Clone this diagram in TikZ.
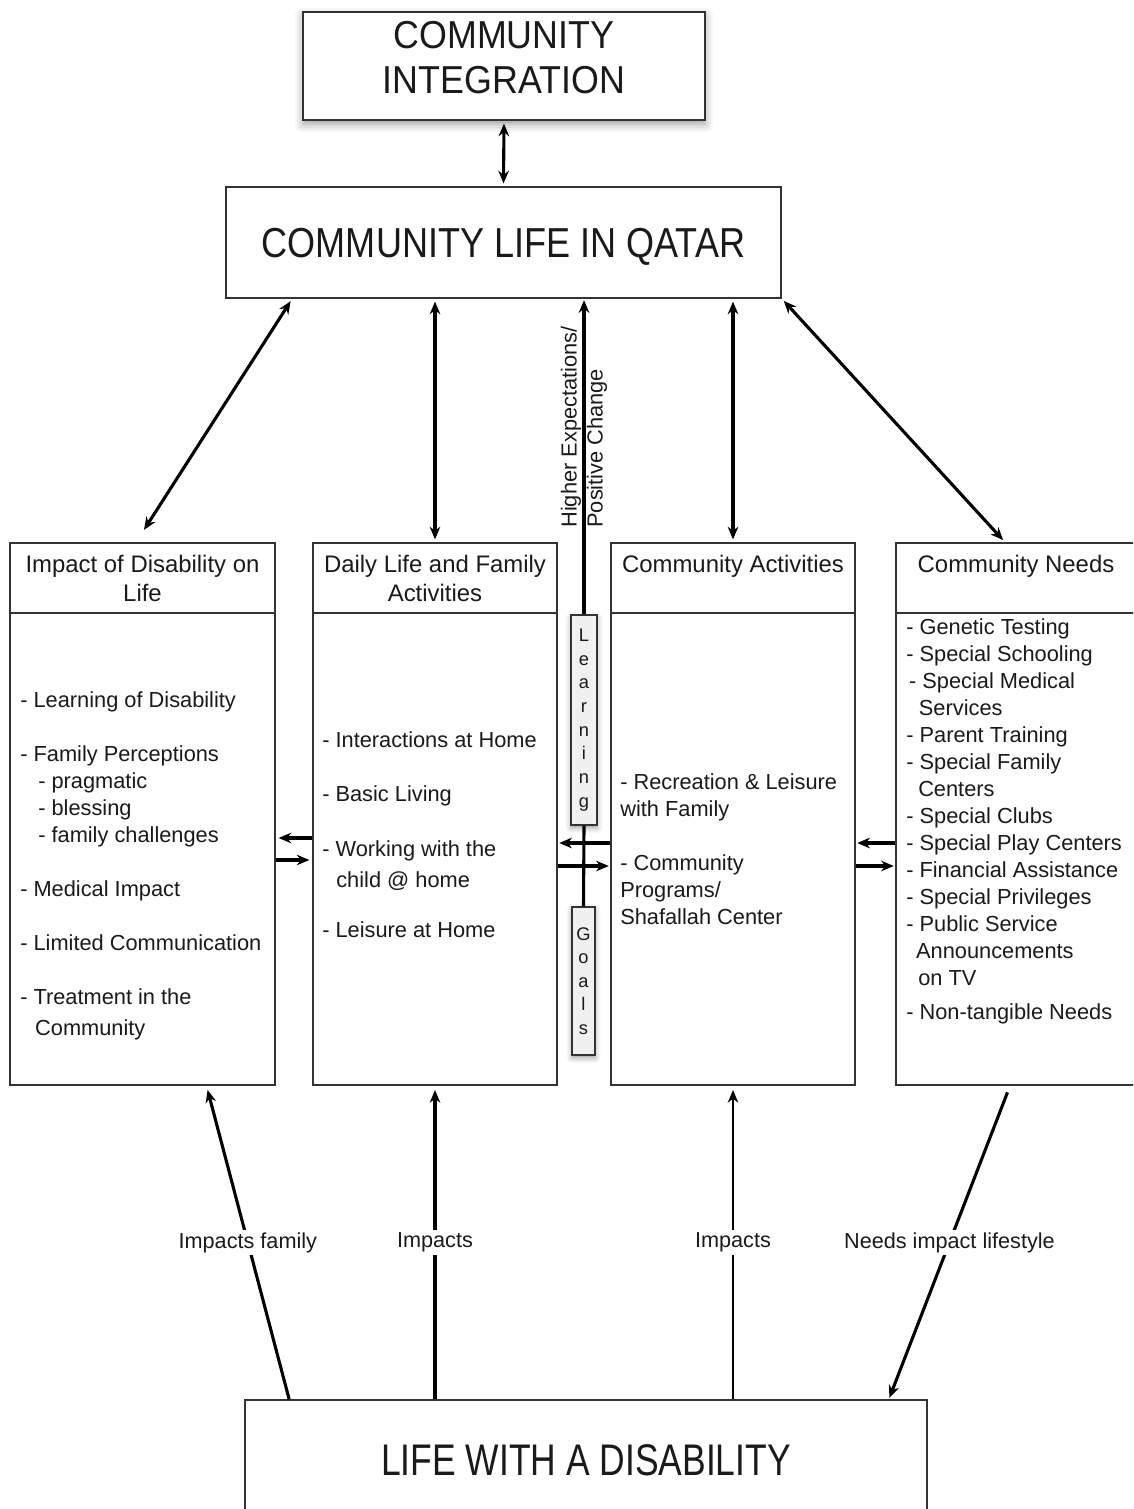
\documentclass[tikz,border=0pt]{standalone}
\usepackage{fontspec}
\setmainfont{Liberation Sans}
\newfontfamily\narrowsf[FakeStretch=0.8]{Liberation Sans}
\newfontfamily\semisf[FakeStretch=0.86]{Liberation Sans}
\newfontfamily\titlesf[FakeStretch=0.92]{Liberation Sans}
\usetikzlibrary{arrows.meta,shadows.blur}
\definecolor{ink}{HTML}{1A1A1A}
\definecolor{frame}{HTML}{333333}

\begin{document}
\begin{tikzpicture}[x=0.025cm,y=-0.025cm,>={Stealth[length=9pt,width=7.5pt]},
  box/.style={draw=frame,line width=1.1pt,fill=white,text=ink,inner sep=0pt},
  hd/.style={box,minimum height=1.75cm,align=center,font=\fontsize{17}{20.6}\selectfont},
  body/.style={box,minimum height=11.8cm},
  item/.style={anchor=north west,align=left,inner sep=0pt,text=ink,font=\fontsize{15.5}{19.2}\selectfont},
  link/.style={<->,line width=2.2pt,shorten <=2pt,shorten >=2pt},
  flow/.style={->,line width=2.2pt},
  lbl/.style={fill=white,text=ink,font=\fontsize{15.4}{18}\selectfont,inner sep=2pt},
  tag/.style={draw=frame,line width=0.9pt,fill=gray!12,inner sep=0pt,align=center,text=ink,
    font=\fontsize{13}{16.8}\selectfont,
    blur shadow={shadow xshift=0pt,shadow yshift=-2pt,shadow blur radius=4pt}}]

\useasboundingbox (0,0) rectangle (1133,1509);
\clip (0,0) rectangle (1133,1509);

% top boxes
\node[box,minimum width=10.05cm,minimum height=2.7cm,
  blur shadow={shadow xshift=0pt,shadow yshift=-3pt,shadow blur radius=6pt}] (intg) at (504,66) {};
\node[align=center,inner sep=0pt,text=ink,font=\titlesf\fontsize{27.7}{32}\selectfont] (intgtxt) at (504,57.5) {COMMUNITY\\INTEGRATION};
\node[box,minimum width=13.875cm,minimum height=2.775cm,text depth=0pt,font=\semisf\fontsize{29.8}{34}\selectfont] (qatar) at (503.5,242.5) {COMMUNITY LIFE IN QATAR};

% the four columns
\node[hd,minimum width=6.625cm] (hd1) at (142.5,578) {Impact of Disability on\\Life};
\node[body,minimum width=6.625cm] (body1) at (142.5,849) {};
\node[hd,minimum width=6.1cm] (hd2) at (435,578) {Daily Life and Family\\Activities};
\node[body,minimum width=6.1cm] (body2) at (435,849) {};
\node[hd,minimum width=6.1cm] (hd3) at (733,578) {Community Activities\\\phantom{A}};
\node[body,minimum width=6.1cm] (body3) at (733,849) {};
\node[hd,minimum width=6cm] (hd4) at (1016,578) {Community Needs\\\phantom{A}};
\node[body,minimum width=6cm] (body4) at (1016,849) {};

\node[item] (list1) at (20,691) {- Learning of Disability\\[19.2pt]
- Family Perceptions\\
\hspace*{12.8pt}- pragmatic\\
\hspace*{12.8pt}- blessing\\
\hspace*{12.8pt}- family challenges\\[19.2pt]
- Medical Impact\\[19.2pt]
- Limited Communication\\[19.2pt]
- Treatment in the\\[3pt]
\hspace*{10.6pt}Community};
\node[item] (list2) at (322,731) {- Interactions at Home\\[19.2pt]
- Basic Living\\[19.9pt]
- Working with the\\[2.8pt]
\hspace*{10pt}child @ home\\[17pt]
- Leisure at Home};
\node[item] (list3) at (620,773) {- Recreation \& Leisure\\
with Family\\[19.2pt]
- Community\\
Programs/\\
Shafallah Center};
\node[item] (list4) at (906,618) {- Genetic Testing\\
- Special Schooling\\
\hspace*{2pt}- Special Medical\\
\hspace*{9pt}Services\\
- Parent Training\\
- Special Family\\
\hspace*{8.5pt}Centers\\
- Special Clubs\\
- Special Play Centers\\
- Financial Assistance\\
- Special Privileges\\
- Public Service\\
\hspace*{7pt}Announcements\\
\hspace*{8.5pt}on TV\\[5pt]
- Non-tangible Needs};

% learning and goals
\node[tag,minimum width=0.65cm,minimum height=5.25cm] (learn) at (584,720) {L\\e\\a\\r\\n\\i\\n\\g};
\node[tag,minimum width=0.575cm,minimum height=3.7cm] (goals) at (583.5,981) {G\\o\\a\\l\\s};

% bottom box
\node[box,minimum width=17.05cm,minimum height=3cm,font=\narrowsf\fontsize{31.5}{36}\selectfont] (life) at (586,1460) {LIFE WITH A DISABILITY};

% links to community life
\draw[link] (intg.south) -- (qatar.north);
\draw[link] ([xshift=1.675cm]qatar.south west) -- ([yshift=0.25cm]hd1.north);
\draw[link] (qatar.south -| hd2.north) -- (hd2.north);
\draw[link] (qatar.south -| hd3.north) -- (hd3.north);
\draw[link] (qatar.south east) -- ([xshift=-0.275cm]hd4.north);
\draw[flow,shorten >=1pt] (learn.north) -- (learn.north |- qatar.south)
  node[pos=0.27,rotate=90,anchor=west,align=left,inner sep=0pt,text=ink,
    font=\fontsize{15.5}{18.5}\selectfont] (hope) {Higher Expectations/\\Positive Change};
\draw[line width=2.2pt] (learn.south) -- (goals.north);

% side arrows between columns
\draw[flow,shorten >=2pt] ([yshift=2.75mm]body2.west) -- ([yshift=2.75mm]body1.east);
\draw[flow,shorten >=2pt] ([yshift=-2.75mm]body1.east) -- ([yshift=-2.75mm]body2.west);
\draw[flow,shorten >=1pt] ([yshift=1.5mm]body3.west) -- ([yshift=1.5mm]body2.east);
\draw[flow,shorten >=1pt] ([yshift=-4.25mm]body2.east) -- ([yshift=-4.25mm]body3.west);
\draw[flow,shorten >=1pt] ([yshift=1.5mm]body4.west) -- ([yshift=1.5mm]body3.east);
\draw[flow,shorten >=1pt] ([yshift=-4.25mm]body3.east) -- ([yshift=-4.25mm]body4.west);

% impacts from the bottom
\draw[flow,shorten >=3pt] ([xshift=1.125cm]life.north west) -- ([xshift=1.6cm]body1.south)
  node[midway,lbl] (imp1) {Impacts family};
\draw[flow,shorten >=3pt] (body2.south |- life.north) -- (body2.south)
  node[midway,lbl] (imp2) {Impacts};
\draw[->,line width=1.3pt,shorten >=3pt] (body3.south |- life.north) -- (body3.south)
  node[midway,lbl] (imp3) {Impacts};
\draw[flow,shorten <=5pt,shorten >=1pt] ([xshift=-0.15cm]body4.south) -- ([xshift=-0.975cm]life.north east)
  node[midway,lbl] (imp4) {Needs impact lifestyle};
\end{tikzpicture}
\end{document}
